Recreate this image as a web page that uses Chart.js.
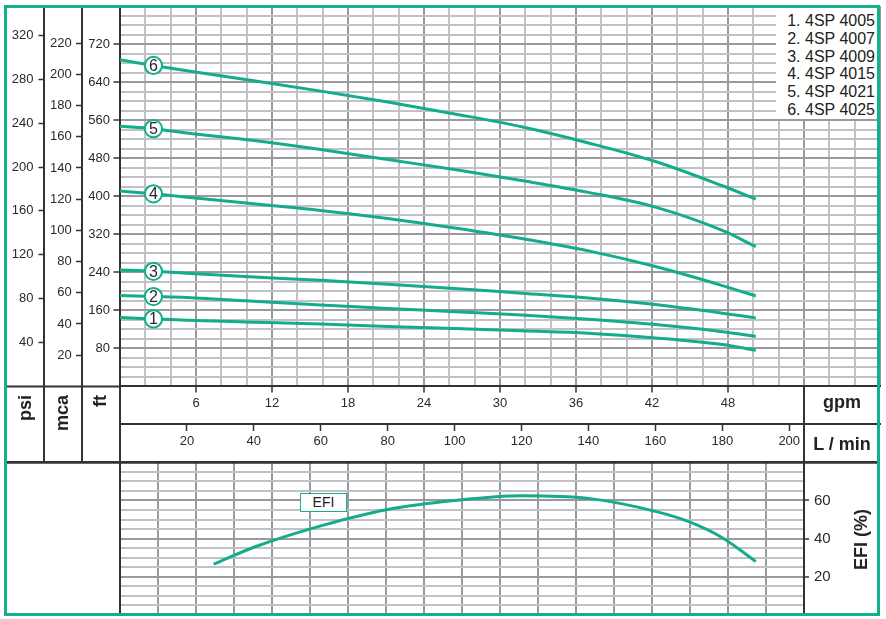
<!DOCTYPE html>
<html>
<head>
<meta charset="utf-8">
<script src="https://cdn.jsdelivr.net/npm/chart.js@4/dist/chart.umd.min.js"></script>
<style>
html,body{margin:0;padding:0;background:#fff;}
#wrap{position:relative;width:886px;height:619px;overflow:hidden;font-family:"Liberation Sans",Arial,sans-serif;color:#222;}
canvas{position:absolute;left:0;}
#c1{top:0;}
#c2{top:459px;}
#frame{position:absolute;left:4px;top:5px;width:870px;height:605px;border:3.5px solid #14b08e;z-index:5;pointer-events:none;}
#legend{position:absolute;left:776px;top:8px;width:102px;height:111px;background:#fff;padding:4px 3px 0 0;box-sizing:border-box;text-align:right;font-size:16px;line-height:17.8px;color:#222;z-index:3;}
.vlab{position:absolute;writing-mode:vertical-rl;transform:rotate(180deg);font-weight:bold;font-size:18px;line-height:20px;width:20px;color:#222;z-index:3;}
.hlab{position:absolute;left:804px;width:76px;text-align:center;font-weight:bold;font-size:18px;line-height:20px;color:#222;z-index:3;}
#efiBox{position:absolute;left:300px;top:493px;width:47px;height:19px;box-sizing:border-box;border:1.5px solid #14b08e;background:#fff;font-size:14px;line-height:16px;text-align:center;color:#222;z-index:3;}
</style>
</head>
<body>
<div id="wrap">
  <canvas id="c1" width="886" height="462"></canvas>
  <canvas id="c2" width="886" height="160"></canvas>
  <div id="legend"></div>
  <div class="vlab" style="left:15px;top:395px;">psi</div>
  <div class="vlab" style="left:52px;top:395px;">mca</div>
  <div class="vlab" style="left:90px;top:395px;">ft</div>
  <div class="hlab" style="top:392px;">gpm</div>
  <div class="hlab" style="top:434px;">L / min</div>
  <div class="vlab" style="left:851px;top:509px;">EFI (%)</div>
  <div id="efiBox">EFI</div>
  <div id="frame"></div>
</div>
<script>
// ---------- data ----------
const flowLpm  = [0, 10, 20, 40, 60, 80, 100, 120, 140, 160, 180, 190];
const head4005 = [145, 142, 139, 135, 131, 126, 122, 117, 112, 102, 88, 76];
const head4007 = [191, 189, 187, 179, 171, 164, 157, 150, 141, 130, 115, 105];
const head4009 = [245, 242, 238, 230, 223, 215, 206, 196, 186, 172, 154, 144];
const head4015 = [411, 405, 398, 384, 370, 353, 333, 311, 285, 252, 212, 190];
const head4021 = [547, 542, 533, 517, 498, 477, 456, 433, 408, 377, 328, 294];
const head4025 = [687, 675, 664, 643, 621, 598, 573, 546, 512, 473, 422, 394];
const modelNames = ['4SP 4005', '4SP 4007', '4SP 4009', '4SP 4015', '4SP 4021', '4SP 4025'];
const curveTags  = ['1', '2', '3', '4', '5', '6'];

const effFlowLpm = [28, 40, 60, 80, 100, 120, 140, 160, 170, 180, 190];
const effPercent = [26.6, 35.5, 46.7, 55.3, 60.0, 62.5, 61.1, 54.3, 48.9, 40.5, 28.0];

const gpmTicks = [6, 12, 18, 24, 30, 36, 42, 48];
const lpmTicks = [20, 40, 60, 80, 100, 120, 140, 160, 180, 200];
const ftTicks  = [80, 160, 240, 320, 400, 480, 560, 640, 720];
const mcaTicks = [20, 40, 60, 80, 100, 120, 140, 160, 180, 200, 220];
const psiTicks = [40, 80, 120, 160, 200, 240, 280, 320];
const effTicks = [20, 40, 60];

// ---------- unit relations and ranges ----------
const LPM_PER_GPM = 3.78541, FT_PER_M = 3.28084, FT_PER_PSI = 2.30666;
const GPM_MAX_TOP = 60, GPM_MAX_BOTTOM = 54, FT_MAX = 800, EFF_MAX = 80;
const MARK_INDEX = 1;

// ---------- styles ----------
const GREEN = '#14ad8b';
const AXIS = '#333333';
const GRID_LIGHT = '#c2c2c6';
const GRID_DARK = '#9a9a9e';
const FONT = '"Liberation Sans", Arial, sans-serif';
const TXT = '#2a2a2a';
const NONE = 'rgba(0,0,0,0)';
const FRAME_X = 4;

document.getElementById('legend').innerHTML =
  modelNames.map((m, i) => '<div>' + curveTags[i] + '. ' + m + '</div>').join('');

function labelIf(list) { return v => list.includes(v) ? String(v) : ''; }
function tickColorIf(list) { return c => (c.tick && list.includes(c.tick.value)) ? AXIS : NONE; }
function noPad(sc) { sc.paddingTop = 0; sc.paddingBottom = 0; sc.paddingLeft = 0; sc.paddingRight = 0; }

const heads = [head4005, head4007, head4009, head4015, head4021, head4025];
const datasets = heads.map((h, i) => ({
  label: curveTags[i] + '. ' + modelNames[i],
  tag: curveTags[i],
  data: flowLpm.map((x, k) => ({x: x, y: h[k]})),
  xAxisID: 'lpm', yAxisID: 'ft',
  borderColor: GREEN, borderWidth: 3,
  cubicInterpolationMode: 'monotone',
  pointRadius: c => c.dataIndex === MARK_INDEX ? 8.6 : 0,
  pointBackgroundColor: '#fff', pointBorderColor: GREEN, pointBorderWidth: 2,
  pointHoverRadius: c => c.dataIndex === MARK_INDEX ? 8.6 : 0
}));

const curveNumberPlugin = {
  id: 'curveNumbers',
  afterDatasetsDraw(chart) {
    const ctx = chart.ctx;
    ctx.save();
    ctx.font = '16px ' + FONT;
    ctx.fillStyle = TXT; ctx.textAlign = 'center'; ctx.textBaseline = 'middle';
    chart.data.datasets.forEach((ds, i) => {
      const el = chart.getDatasetMeta(i).data[MARK_INDEX];
      ctx.fillText(ds.tag, el.x, el.y + 1);
    });
    ctx.restore();
  }
};

const bandLinesPlugin = {
  id: 'bandLines',
  afterDraw(chart) {
    const {ctx, chartArea: a, scales: s} = chart;
    ctx.save();
    ctx.strokeStyle = AXIS; ctx.lineWidth = 2;
    ctx.beginPath();
    ctx.moveTo(FRAME_X, a.bottom); ctx.lineTo(a.left, a.bottom);
    ['psi', 'mca', 'ft'].forEach(id => {
      const x = Math.round(s[id].right);
      ctx.moveTo(x, a.bottom); ctx.lineTo(x, chart.height);
    });
    const xe = Math.round(s.gpm.getPixelForValue(GPM_MAX_BOTTOM));
    ctx.moveTo(xe, a.bottom); ctx.lineTo(xe, chart.height);
    ctx.stroke();
    ctx.restore();
  }
};

function leftAxis(max, step, list, weight, width, tl, pad, grid) {
  return {
    type: 'linear', position: 'left', weight: weight, min: 0, max: max,
    ticks: { stepSize: step, autoSkip: false, callback: labelIf(list), padding: pad,
             font: {family: FONT, size: 13}, color: TXT },
    grid: Object.assign({ tickLength: tl, tickWidth: 1.5, tickColor: tickColorIf(list) }, grid),
    border: { display: true, color: AXIS, width: 2 },
    afterFit: sc => { sc.width = width; noPad(sc); }
  };
}

new Chart(document.getElementById('c1'), {
  type: 'line',
  data: { datasets: datasets },
  options: {
    responsive: false, maintainAspectRatio: false, animation: false,
    layout: { autoPadding: false, padding: {left: 0, right: 6, top: 6, bottom: 0} },
    plugins: { legend: {display: false}, tooltip: {enabled: false} },
    scales: {
      gpm: {
        type: 'linear', position: 'bottom', weight: 1, min: 0, max: GPM_MAX_TOP,
        ticks: { stepSize: 2, autoSkip: false, maxRotation: 0, callback: labelIf(gpmTicks),
                 padding: 3, font: {family: FONT, size: 13}, color: TXT },
        grid: { color: c => (c.tick && c.tick.value % 6 === 0) ? GRID_DARK : GRID_LIGHT, lineWidth: 2,
                tickLength: 6, tickWidth: 1.5, tickColor: tickColorIf(gpmTicks) },
        border: { display: true, color: AXIS, width: 2 },
        afterFit: sc => { sc.height = 37.6; noPad(sc); }
      },
      lpm: {
        type: 'linear', position: 'bottom', weight: 2, min: 0, max: GPM_MAX_TOP * LPM_PER_GPM,
        ticks: { stepSize: 20, autoSkip: false, maxRotation: 0, callback: labelIf(lpmTicks),
                 padding: 3, font: {family: FONT, size: 13}, color: TXT },
        grid: { drawOnChartArea: false, tickLength: 7, tickWidth: 1.5, tickColor: tickColorIf(lpmTicks) },
        border: { display: true, color: AXIS, width: 2 },
        afterFit: sc => { sc.height = 38; noPad(sc); }
      },
      ft: leftAxis(FT_MAX, 20, ftTicks, 1, 38, 6.5, 3.5,
        { color: c => (c.tick && c.tick.value % 80 === 0) ? GRID_DARK : GRID_LIGHT, lineWidth: 2 }),
      mca: leftAxis(FT_MAX / FT_PER_M, 20, mcaTicks, 2, 38, 6, 4.3, { drawOnChartArea: false }),
      psi: leftAxis(FT_MAX / FT_PER_PSI, 40, psiTicks, 3, 44, 5.5, 5, { drawOnChartArea: false })
    }
  },
  plugins: [curveNumberPlugin, bandLinesPlugin]
});

const efiFramePlugin = {
  id: 'efiFrame',
  afterDraw(chart) {
    const {ctx, chartArea: a, scales: s} = chart;
    ctx.save();
    ctx.strokeStyle = AXIS;
    ctx.lineWidth = 2;
    ctx.beginPath();
    ctx.moveTo(Math.round(a.left), a.top); ctx.lineTo(Math.round(a.left), a.bottom);
    ctx.stroke();
    ctx.lineWidth = 2.7;
    ctx.beginPath();
    ctx.moveTo(FRAME_X, a.top); ctx.lineTo(s.eff.right, a.top);
    ctx.stroke();
    ctx.restore();
  }
};

new Chart(document.getElementById('c2'), {
  type: 'line',
  data: { datasets: [{
    label: 'EFI',
    data: effFlowLpm.map((x, k) => ({x: x, y: effPercent[k]})),
    xAxisID: 'lpm2', yAxisID: 'eff',
    borderColor: GREEN, borderWidth: 3, pointRadius: 0,
    cubicInterpolationMode: 'monotone'
  }]},
  options: {
    responsive: false, maintainAspectRatio: false, animation: false,
    layout: { autoPadding: false, padding: {left: 120, right: 6, top: 3.3, bottom: 4} },
    plugins: { legend: {display: false}, tooltip: {enabled: false} },
    scales: {
      gpmGrid: {
        type: 'linear', position: 'bottom', min: 0, max: GPM_MAX_BOTTOM,
        ticks: { display: false, stepSize: 3, autoSkip: false },
        grid: { color: GRID_DARK, lineWidth: 2, drawTicks: false },
        border: { display: false },
        afterFit: sc => { sc.height = 0; noPad(sc); }
      },
      lpm2: { type: 'linear', display: false, min: 0, max: GPM_MAX_BOTTOM * LPM_PER_GPM },
      eff: {
        type: 'linear', position: 'right', min: 0, max: EFF_MAX,
        ticks: { stepSize: 5, autoSkip: false, callback: labelIf(effTicks), padding: 5,
                 font: {family: FONT, size: 15}, color: TXT },
        grid: { color: c => (c.tick && c.tick.value % 20 === 0) ? GRID_DARK : GRID_LIGHT, lineWidth: 2,
                tickLength: 5, tickWidth: 1.5, tickColor: tickColorIf(effTicks) },
        border: { display: true, color: AXIS, width: 2 },
        afterFit: sc => { sc.width = 76; noPad(sc); }
      }
    }
  },
  plugins: [efiFramePlugin]
});
</script>
</body>
</html>
